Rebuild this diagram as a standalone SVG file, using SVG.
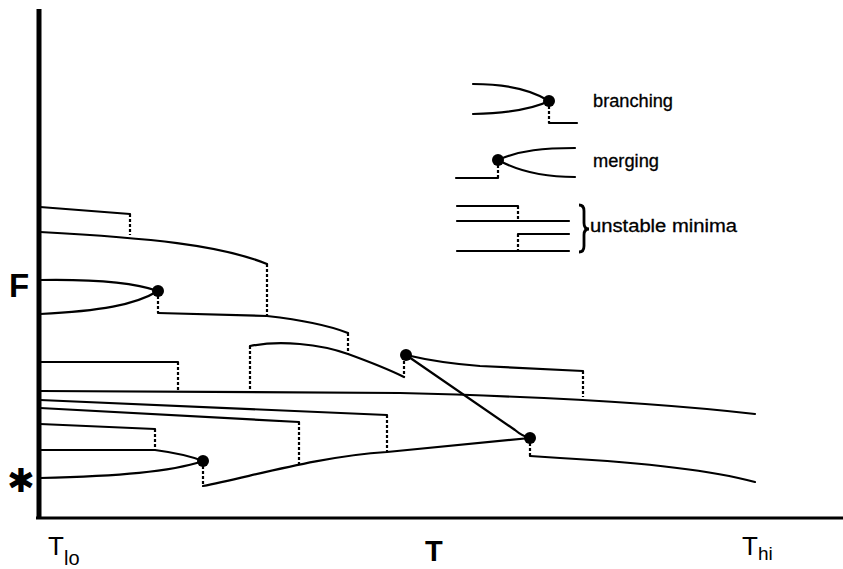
<svg xmlns="http://www.w3.org/2000/svg" width="843" height="569" viewBox="0 0 843 569">
<style>
.s{fill:none;stroke:#000;stroke-width:2.2;stroke-linecap:round;stroke-linejoin:round}
.d{fill:none;stroke:#000;stroke-width:2.2;stroke-dasharray:3,2}
.n{fill:#000}
.t{font-family:"Liberation Sans",Arial,sans-serif;fill:#000}
.lg{font-size:17.5px;stroke:#000;stroke-width:0.3}
</style>
<rect width="843" height="569" fill="#fff"/>
<g id="axes">
<line x1="39" y1="9" x2="39" y2="519" stroke="#000" stroke-width="5"/>
<line x1="36" y1="518" x2="843" y2="518" stroke="#000" stroke-width="3"/>
</g>
<g id="connectors">
<path class="s" d="M40,207 L130,214"/>
<path class="s" d="M40,232 C150,238 220,245 267,264"/>
<path class="s" d="M40,280 C100,279 135,283 158,291"/>
<path class="s" d="M40,314 C100,311 135,305 158,291"/>
<path class="s" d="M158,313 L267,316 Q320,322 348,333"/>
<path class="s" d="M250,346 C280,340 320,344 348,354 C370,362 390,370 404,377"/>
<path class="s" d="M40,362 L178,362"/>
<path class="s" d="M40,391 L400,393 C520,396 650,402 755,414"/>
<path class="s" d="M406,355 Q440,363 480,366 L583,371"/>
<path class="s" d="M406,355 L515,430 Q522,436 530,438"/>
<path class="s" d="M530,456 L560,458 C650,463 710,470 755,482"/>
<path class="s" d="M40,400 L387,415"/>
<path class="s" d="M40,408 L299,422"/>
<path class="s" d="M40,424 L155,429"/>
<path class="s" d="M40,450 L155,450 Q185,454 203,461"/>
<path class="s" d="M40,478 C120,476 170,472 203,461"/>
<path class="s" d="M203,486 C250,477 320,456 387,452 L530,438"/>
<path class="d" d="M130,214 V235 M267,264 V316 M158,291 V313 M348,333 V354 M250,346 V392 M178,362 V392 M404,356 V377 M583,371 V397 M530,438 V456 M387,415 V452 M299,422 V465 M155,429 V449 M203,461 V486"/>
</g>
<g id="node1"><circle class="n" cx="158" cy="291" r="6"/></g>
<g id="node2"><circle class="n" cx="406" cy="355" r="6"/></g>
<g id="node3"><circle class="n" cx="203" cy="461" r="6"/></g>
<g id="node4"><circle class="n" cx="530" cy="438" r="6"/></g>
<g id="legend-branching">
<path class="s" d="M473,84 C510,84 535,92 549,101"/>
<path class="s" d="M473,114 C510,113 535,108 549,101"/>
<path class="d" d="M549,101 V123"/>
<path class="s" d="M549,123 L577,123"/>
<circle class="n" cx="549" cy="101" r="6"/>
<text class="t lg" x="593" y="107" textLength="80" lengthAdjust="spacingAndGlyphs">branching</text>
</g>
<g id="legend-merging">
<path class="s" d="M498,160 C520,150 545,148 575,148"/>
<path class="s" d="M498,160 C520,172 545,177 575,177"/>
<path class="d" d="M498,160 V178"/>
<path class="s" d="M456,178 L498,178"/>
<circle class="n" cx="498" cy="160" r="6"/>
<text class="t lg" x="593" y="167" textLength="66" lengthAdjust="spacingAndGlyphs">merging</text>
</g>
<g id="legend-unstable">
<path class="s" d="M457,206 L518,206 M457,221 L569,221 M518,234 L569,234 M457,251 L569,251"/>
<path class="d" d="M518,206 V221 M518,234 V251"/>
<path fill="none" stroke="#000" stroke-width="2.8" d="M579,205 Q584,205 584,211 L584,223 Q584,229 589,229 Q584,229 584,235 L584,246 Q584,252 579,252"/>
<text class="t lg" x="590" y="232" textLength="147" lengthAdjust="spacingAndGlyphs">unstable minima</text>
</g>
<g id="labels">
<text class="t" x="9" y="297" font-size="33" font-weight="bold">F</text>
<text x="21" y="480" font-family="'DejaVu Sans',sans-serif" font-size="33" font-weight="bold" text-anchor="middle" dominant-baseline="central">✱</text>
<text class="t" x="48" y="555" font-size="26">T</text>
<text class="t" x="64" y="565" font-size="20">lo</text>
<text class="t" x="425" y="561" font-size="29" font-weight="bold">T</text>
<text class="t" x="742" y="555" font-size="26">T</text>
<text class="t" x="758" y="560" font-size="19">hi</text>
</g>
</svg>
